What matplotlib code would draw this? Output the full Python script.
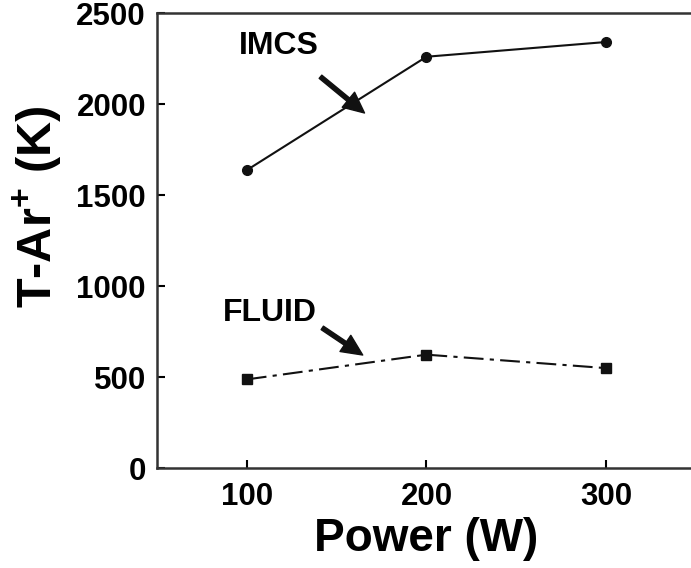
import matplotlib
matplotlib.use("Agg")
import matplotlib.pyplot as plt

plt.rcParams['font.family'] = ['Liberation Sans', 'DejaVu Sans']
plt.rcParams['font.weight'] = 'bold'
plt.rcParams['mathtext.fontset'] = 'custom'
plt.rcParams['mathtext.rm'] = 'Liberation Sans:bold'
plt.rcParams['mathtext.bf'] = 'Liberation Sans:bold'

# data
power = [100, 200, 300]
imcs = [1637, 2260, 2341]
fluid = [487, 623, 549]

xticks = [100, 200, 300]
yticks = [0, 500, 1000, 1500, 2000, 2500]

fig = plt.figure(figsize=(6.91, 5.68), dpi=100)
# right edge runs past the image, as in the reference
ax = fig.add_axes([0.2272, 0.176, 0.780, 0.801])

ax.plot(power, imcs, color='#111111', lw=1.5, marker='o', ms=7, mfc='#111111', mec='#111111')
ax.plot(power, fluid, color='#111111', lw=1.5, linestyle=(0, (9.5, 3, 2, 3)),
        marker='s', ms=7, mfc='#111111', mec='#111111')

ax.set_xlim(50, 350)
ax.set_ylim(0, 2500)
ax.set_xticks(xticks)
ax.set_yticks(yticks)
ax.tick_params(direction='in', length=6, width=1.5, labelsize=22.5, pad=8)
ax.tick_params(axis='x', pad=10)
for lab in ax.get_xticklabels() + ax.get_yticklabels():
    lab.set_fontweight('bold')

for s in ax.spines.values():
    s.set_linewidth(1.8)
    s.set_color('#333333')
ax.spines['right'].set_visible(False)

ax.set_xlabel('Power (W)', fontsize=33, fontweight='bold', labelpad=4)
ax.set_ylabel(r'T-Ar$^{+}$ (K)', fontsize=35, fontweight='bold')
ax.yaxis.set_label_coords(-0.172, 0.575)

arrow = dict(facecolor='#111111', edgecolor='#111111', width=3, headwidth=14, headlength=15, shrink=0)
ax.text(118, 2320, 'IMCS', fontsize=23, fontweight='bold', ha='center', va='center')
ax.annotate('', xy=(165.5, 1951), xytext=(141, 2150), arrowprops=arrow)
ax.text(113, 852, 'FLUID', fontsize=23, fontweight='bold', ha='center', va='center')
ax.annotate('', xy=(164.5, 621), xytext=(142, 770), arrowprops=arrow)

fig.savefig('out.png', dpi=100)
